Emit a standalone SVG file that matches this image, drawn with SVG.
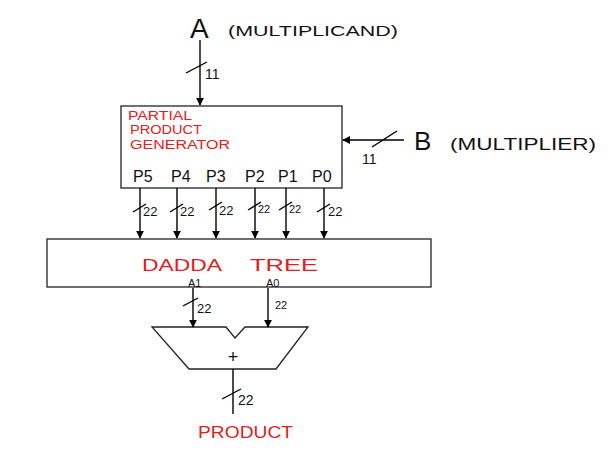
<svg xmlns="http://www.w3.org/2000/svg" width="614" height="456" viewBox="0 0 614 456">
<style>
.ln{stroke:#000;stroke-width:1.4;fill:none}
.bx{stroke:#222;stroke-width:1.3;fill:#fff}
.t{font-family:"Liberation Sans",Arial,sans-serif;fill:#111}
.r{font-family:"Liberation Sans",Arial,sans-serif;fill:#e02020}
.s{font-size:13px}
</style>
<defs>
<marker id="ah" viewBox="0 0 10 10" refX="9" refY="5" markerWidth="8" markerHeight="8" markerUnits="userSpaceOnUse" orient="auto">
<path d="M0,0 L10,5 L0,10 z" fill="#000"/>
</marker>
</defs>
<rect width="614" height="456" fill="#fff"/>

<g id="inputA">
<text class="t" x="190" y="38" font-size="28">A</text>
<text class="t" x="228" y="36" font-size="15" textLength="170" lengthAdjust="spacingAndGlyphs">(MULTIPLICAND)</text>
</g>
<g id="inputB">
<text class="t" x="414" y="150" font-size="26">B</text>
<text class="t" x="450" y="150" font-size="16" textLength="146" lengthAdjust="spacingAndGlyphs">(MULTIPLIER)</text>
</g>

<g id="ppg">
<rect class="bx" x="121" y="106" width="221" height="82"/>
<text class="r" x="128" y="120" font-size="12" textLength="64" lengthAdjust="spacingAndGlyphs">PARTIAL</text>
<text class="r" x="130" y="134" font-size="12" textLength="72" lengthAdjust="spacingAndGlyphs">PRODUCT</text>
<text class="r" x="130" y="149" font-size="12" textLength="100" lengthAdjust="spacingAndGlyphs">GENERATOR</text>
<text class="t" x="133" y="182" font-size="16">P5</text>
<text class="t" x="171" y="182" font-size="16">P4</text>
<text class="t" x="206" y="182" font-size="16">P3</text>
<text class="t" x="245" y="182" font-size="16">P2</text>
<text class="t" x="278" y="182" font-size="16">P1</text>
<text class="t" x="312" y="182" font-size="16">P0</text>
</g>

<g id="dadda">
<rect class="bx" x="47" y="239" width="384" height="48"/>
<text class="r" x="142" y="271" font-size="17" textLength="80" lengthAdjust="spacingAndGlyphs">DADDA</text>
<text class="r" x="250" y="271" font-size="17" textLength="68" lengthAdjust="spacingAndGlyphs">TREE</text>
<text class="t" x="188" y="287" font-size="11">A1</text>
<text class="t" x="266" y="287" font-size="11">A0</text>
</g>

<g id="adder">
<path class="bx" d="M152,327 L226,327 L235,338 L245,327 L308,327 L276,369 L189,369 Z"/>
<text class="t" x="233" y="363" font-size="18" text-anchor="middle">+</text>
</g>

<g id="output">
<text class="r" x="198" y="438" font-size="17" textLength="95" lengthAdjust="spacingAndGlyphs">PRODUCT</text>
</g>

<g id="connectors">
<line class="ln" x1="200" y1="40" x2="200" y2="105" marker-end="url(#ah)"/>
<line class="ln" x1="186" y1="73" x2="207" y2="62"/>
<text class="t" x="205" y="79" font-size="14">11</text>

<line class="ln" x1="404" y1="140" x2="343" y2="140" marker-end="url(#ah)"/>
<line class="ln" x1="372" y1="147" x2="397" y2="131"/>
<text class="t" x="362" y="164" font-size="14">11</text>

<g>
<line class="ln" x1="140" y1="188" x2="140" y2="238" marker-end="url(#ah)"/>
<line class="ln" x1="133" y1="212" x2="146" y2="204"/>
<text class="t s" x="143" y="216">22</text>
<line class="ln" x1="177" y1="188" x2="177" y2="238" marker-end="url(#ah)"/>
<line class="ln" x1="170" y1="212" x2="183" y2="204"/>
<text class="t s" x="180" y="216">22</text>
<line class="ln" x1="216" y1="188" x2="216" y2="238" marker-end="url(#ah)"/>
<line class="ln" x1="209" y1="210" x2="222" y2="202"/>
<text class="t s" x="219" y="215">22</text>
<line class="ln" x1="255" y1="188" x2="255" y2="238" marker-end="url(#ah)"/>
<line class="ln" x1="248" y1="210" x2="261" y2="202"/>
<text class="t" x="258" y="213" font-size="11">22</text>
<line class="ln" x1="286" y1="188" x2="286" y2="238" marker-end="url(#ah)"/>
<line class="ln" x1="279" y1="210" x2="292" y2="202"/>
<text class="t" x="289" y="213" font-size="11">22</text>
<line class="ln" x1="324" y1="188" x2="324" y2="238" marker-end="url(#ah)"/>
<line class="ln" x1="317" y1="212" x2="330" y2="204"/>
<text class="t s" x="328" y="216">22</text>
</g>

<line class="ln" x1="193" y1="288" x2="193" y2="327" marker-end="url(#ah)"/>
<line class="ln" x1="183" y1="306" x2="198" y2="298"/>
<text class="t s" x="197" y="313">22</text>
<line class="ln" x1="268" y1="288" x2="268" y2="327" marker-end="url(#ah)"/>
<text class="t" x="275" y="309" font-size="11">22</text>

<line class="ln" x1="233" y1="369" x2="233" y2="414"/>
<line class="ln" x1="222" y1="399" x2="241" y2="389"/>
<text class="t" x="238" y="405" font-size="14">22</text>
</g>
</svg>
